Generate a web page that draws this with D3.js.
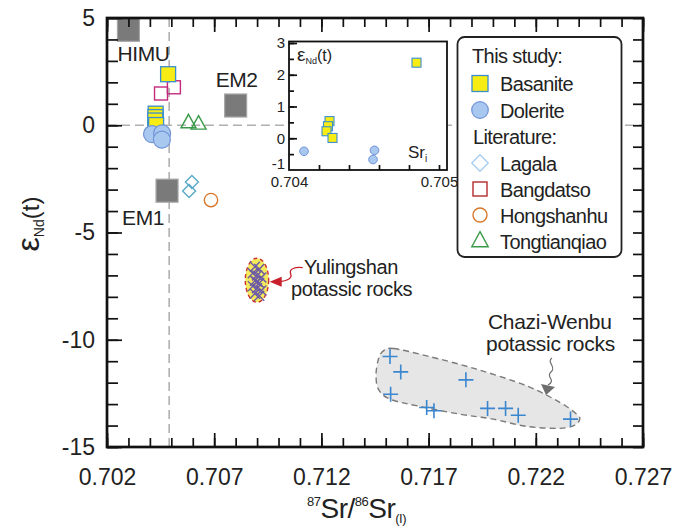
<!DOCTYPE html>
<html>
<head>
<meta charset="utf-8">
<script src="https://cdn.jsdelivr.net/npm/d3@7"></script>
<style>
  body { margin: 0; background: #fff; }
  svg { display: block; font-family: "Liberation Sans", Arial, sans-serif; }
</style>
</head>
<body>
<div id="container"></div>
<script>
// values
var basaniteSr = [0.70427, 0.70426, 0.70425, 0.70429, 0.70485];
var basaniteNd = [0.54, 0.38, 0.22, 0.01, 2.38];
var doleriteSr = [0.70410, 0.70457, 0.70456];
var doleriteNd = [-0.41, -0.38, -0.67];
var lagalaSr = [0.70583, 0.70596];
var lagalaNd = [-3.07, -2.65];
var bangdatsoSr = [0.70452, 0.70512];
var bangdatsoNd = [1.48, 1.77];
var hongshanhuSr = [0.70685];
var hongshanhuNd = [-3.49];
var tongtianqiaoSr = [0.70580, 0.70627];
var tongtianqiaoNd = [0.12, 0.06];
var mantleNames = ["HIMU", "EM1", "EM2"];
var mantleSr = [0.7030, 0.7048, 0.7080];
var mantleNd = [4.45, -3.05, 0.92];
var yulingshanSr = [0.7089, 0.7091, 0.7088, 0.7090, 0.7092, 0.7089, 0.7091, 0.7088, 0.7090, 0.7092, 0.7089, 0.7091, 0.7090];
var yulingshanNd = [-6.6, -6.7, -6.9, -7.0, -7.1, -7.25, -7.35, -7.5, -7.6, -7.7, -7.85, -7.95, -7.3];
var yulingshanFieldSr = [0.70845, 0.70954];
var yulingshanFieldNd = [-8.25, -6.2];
var chaziSr = [0.71520, 0.71570, 0.71523, 0.71691, 0.71725, 0.71874, 0.71975, 0.72059, 0.72118, 0.72362];
var chaziNd = [-10.78, -11.50, -12.54, -13.16, -13.31, -11.87, -13.20, -13.20, -13.52, -13.70];
var chaziFieldSr = [0.71489, 0.71536, 0.71691, 0.71924, 0.72157, 0.72312, 0.72390, 0.72405, 0.72382, 0.72312, 0.72157, 0.72001, 0.71846, 0.71660, 0.71520, 0.71466, 0.71455, 0.71466];
var chaziFieldNd = [-10.52, -10.41, -10.75, -11.37, -12.15, -12.92, -13.47, -13.70, -13.98, -14.13, -14.04, -13.70, -13.47, -13.11, -12.77, -12.30, -11.61, -10.91];
var bulkEarthSr = 0.7049;

var xTickLabels = [0.702, 0.707, 0.712, 0.717, 0.722, 0.727];
var yTickLabels = [-15, -10, -5, 0, 5];
var insetXTickLabels = [0.704, 0.705];
var insetYTickLabels = [-1, 0, 1, 2, 3];
var legendLabels = ["Basanite", "Dolerite", "Lagala", "Bangdatso", "Hongshanhu", "Tongtianqiao"];

var w = 686, h = 526;

var svg = d3.select("div#container")
  .append("svg")
  .attr("width", w)
  .attr("height", h);

var x = d3.scaleLinear().domain([0.702, 0.727]).range([107, 643]);
var y = d3.scaleLinear().domain([-15, 5]).range([447, 18]);

function pts(a, b) { return a.map(function(d, i) { return [d, b[i]]; }); }
// plain hyphen for negatives, like the original
function intFmt(d) { return String(d); }

// symbol paths
function diamond(r) { return "M0," + (-r) + "L" + r + ",0L0," + r + "L" + (-r) + ",0Z"; }
function triangle(hw, ht) { return "M0," + (-ht * 0.62) + "L" + hw + "," + (ht * 0.38) + "L" + (-hw) + "," + (ht * 0.38) + "Z"; }
function plus(r) { return "M" + (-r) + ",0H" + r + "M0," + (-r) + "V" + r; }
function cross(r) { return "M" + (-r) + "," + (-r) + "L" + r + "," + r + "M" + (-r) + "," + r + "L" + r + "," + (-r); }

svg.append("clipPath").attr("id", "plotclip")
  .append("rect").attr("x", 107).attr("y", 18).attr("width", 536).attr("height", 429);

var plot = svg.append("g").attr("clip-path", "url(#plotclip)");

// reference lines
plot.append("line")
  .attr("x1", x(0.702)).attr("x2", x(0.727)).attr("y1", y(0)).attr("y2", y(0))
  .attr("stroke", "#b0b0b0").attr("stroke-width", 1.6).attr("stroke-dasharray", "9,5");
plot.append("line")
  .attr("x1", x(bulkEarthSr)).attr("x2", x(bulkEarthSr)).attr("y1", y(5)).attr("y2", y(-15))
  .attr("stroke", "#b0b0b0").attr("stroke-width", 1.6).attr("stroke-dasharray", "9,5");

// Chazi-Wenbu field
plot.append("path")
  .datum(pts(chaziFieldSr, chaziFieldNd))
  .attr("d", d3.line().x(function(d) { return x(d[0]); }).y(function(d) { return y(d[1]); }).curve(d3.curveCardinalClosed))
  .attr("fill", "#e6e6e6").attr("stroke", "#7a7a7a").attr("stroke-width", 1.4).attr("stroke-dasharray", "6,4");

plot.selectAll(".chazi").data(pts(chaziSr, chaziNd)).enter().append("path")
  .attr("transform", function(d) { return "translate(" + x(d[0]) + "," + y(d[1]) + ")"; })
  .attr("d", plus(7.5)).attr("stroke", "#3a86cf").attr("stroke-width", 1.6).attr("fill", "none");

// Yulingshan field
var ycx = x((yulingshanFieldSr[0] + yulingshanFieldSr[1]) / 2),
    ycy = y((yulingshanFieldNd[0] + yulingshanFieldNd[1]) / 2),
    yrx = (x(yulingshanFieldSr[1]) - x(yulingshanFieldSr[0])) / 2,
    yry = (y(yulingshanFieldNd[0]) - y(yulingshanFieldNd[1])) / 2;
plot.append("ellipse")
  .attr("cx", ycx).attr("cy", ycy).attr("rx", yrx).attr("ry", yry)
  .attr("fill", "#f4ea5c").attr("stroke", "#cc3030").attr("stroke-width", 1.4).attr("stroke-dasharray", "4,3");
plot.selectAll(".yls").data(pts(yulingshanSr, yulingshanNd)).enter().append("path")
  .attr("transform", function(d) { return "translate(" + x(d[0]) + "," + y(d[1]) + ")"; })
  .attr("d", cross(5)).attr("stroke", "#6a5aa8").attr("stroke-width", 1.4).attr("fill", "none");

// mantle end-members
plot.selectAll(".mantle").data(pts(mantleSr, mantleNd)).enter().append("rect")
  .attr("x", function(d) { return x(d[0]) - 11; })
  .attr("y", function(d) { return y(d[1]) - 11.5; })
  .attr("width", 22).attr("height", 23)
  .attr("fill", "#7a7a7a").attr("stroke", "#a6a6a6").attr("stroke-width", 1.2);

// literature
plot.selectAll(".lag").data(pts(lagalaSr, lagalaNd)).enter().append("path")
  .attr("transform", function(d) { return "translate(" + x(d[0]) + "," + y(d[1]) + ")"; })
  .attr("d", diamond(6.5)).attr("fill", "none").attr("stroke", "#5aaac8").attr("stroke-width", 1.4);
plot.selectAll(".bang").data(pts(bangdatsoSr, bangdatsoNd)).enter().append("rect")
  .attr("x", function(d) { return x(d[0]) - 6.5; }).attr("y", function(d) { return y(d[1]) - 6.5; })
  .attr("width", 13).attr("height", 13)
  .attr("fill", "none").attr("stroke", "#c42a7c").attr("stroke-width", 1.4);
plot.selectAll(".hong").data(pts(hongshanhuSr, hongshanhuNd)).enter().append("circle")
  .attr("cx", function(d) { return x(d[0]); }).attr("cy", function(d) { return y(d[1]); }).attr("r", 6.7)
  .attr("fill", "none").attr("stroke", "#d7782c").attr("stroke-width", 1.4);
plot.selectAll(".tong").data(pts(tongtianqiaoSr, tongtianqiaoNd)).enter().append("path")
  .attr("transform", function(d) { return "translate(" + x(d[0]) + "," + y(d[1]) + ")"; })
  .attr("d", triangle(7.5, 13.5)).attr("fill", "none").attr("stroke", "#3a9a4a").attr("stroke-width", 1.4);

// this study
plot.selectAll(".bas").data(pts(basaniteSr, basaniteNd)).enter().append("rect")
  .attr("x", function(d) { return x(d[0]) - 7.5; }).attr("y", function(d) { return y(d[1]) - 7.5; })
  .attr("width", 15).attr("height", 15)
  .attr("fill", "#f7ec13").attr("stroke", "#3a8fd0").attr("stroke-width", 1.3);
plot.selectAll(".dol").data(pts(doleriteSr, doleriteNd)).enter().append("circle")
  .attr("cx", function(d) { return x(d[0]); }).attr("cy", function(d) { return y(d[1]); }).attr("r", 8.5)
  .attr("fill", "#a9c8f0").attr("stroke", "#6f93d6").attr("stroke-width", 1.2);

// end-member labels
var mantleOffset = [[-11, 31], [-45, 34], [-20, -19]];
svg.selectAll(".mlab").data(mantleNames).enter().append("text")
  .attr("x", function(d, i) { return x(mantleSr[i]) + mantleOffset[i][0]; })
  .attr("y", function(d, i) { return y(mantleNd[i]) + mantleOffset[i][1]; })
  .attr("font-size", 21).attr("fill", "#222").attr("letter-spacing", -0.4)
  .text(function(d) { return d; });

// Yulingshan annotation
var tipX = ycx + yrx + 1, tipY = ycy + 1.5;
svg.append("path")
  .attr("d", "M" + (tipX + 33) + "," + (tipY - 14) +
    "C" + (tipX + 26) + "," + (tipY - 15) + " " + (tipX + 19) + "," + (tipY - 13) + " " + (tipX + 21) + "," + (tipY - 8) +
    "S" + (tipX + 17) + "," + (tipY - 1) + " " + (tipX + 10) + "," + tipY)
  .attr("fill", "none").attr("stroke", "#c8202a").attr("stroke-width", 1.3);
svg.append("path")
  .attr("d", "M" + tipX + "," + tipY + "L" + (tipX + 12) + "," + (tipY - 5) + "L" + (tipX + 12) + "," + (tipY + 5) + "Z")
  .attr("fill", "#c8202a");
svg.append("text").attr("x", 304).attr("y", 274).attr("font-size", 20).attr("fill", "#222").attr("letter-spacing", -0.4).text("Yulingshan");
svg.append("text").attr("x", 291).attr("y", 296).attr("font-size", 20).attr("fill", "#222").attr("letter-spacing", -0.4).text("potassic rocks");

// Chazi-Wenbu annotation
svg.append("text").attr("x", 488).attr("y", 329).attr("font-size", 21).attr("fill", "#222").attr("letter-spacing", -0.3).text("Chazi-Wenbu");
svg.append("text").attr("x", 486).attr("y", 351).attr("font-size", 21).attr("fill", "#222").attr("letter-spacing", -0.3).text("potassic rocks");
svg.append("path")
  .attr("d", "M552,358 C546,362 557,367 551,372 S557,380 548,385")
  .attr("fill", "none").attr("stroke", "#6e6e6e").attr("stroke-width", 1.2);
svg.append("path").attr("d", "M541,384 L555,387 L546,395 Z").attr("fill", "#6e6e6e");

// ---- axes ----
var xMinor = d3.range(0, 26).map(function(i) { return 0.702 + i * 0.001; });
var yMinor = d3.range(-15, 6);

function styleAxis(g) {
  g.select(".domain").remove();
  g.selectAll("line").attr("stroke", "#111").attr("stroke-width", 1.7);
  g.selectAll("text").attr("fill", "#222").attr("font-family", "Liberation Sans, Arial, sans-serif");
}

svg.append("g").attr("transform", "translate(0,447)")
  .call(d3.axisBottom(x).tickValues(xMinor).tickSize(-9).tickFormat(""))
  .call(styleAxis);
svg.append("g").attr("transform", "translate(0,447)")
  .call(d3.axisBottom(x).tickValues(xTickLabels).tickSize(-14).tickPadding(22).tickFormat(d3.format(".3f")))
  .call(styleAxis)
  .selectAll("text").attr("font-size", 23);
svg.append("g").attr("transform", "translate(0,18)")
  .call(d3.axisTop(x).tickValues(xMinor).tickSize(-9).tickFormat(""))
  .call(styleAxis);
svg.append("g").attr("transform", "translate(0,18)")
  .call(d3.axisTop(x).tickValues(xTickLabels).tickSize(-14).tickFormat(""))
  .call(styleAxis);
svg.append("g").attr("transform", "translate(107,0)")
  .call(d3.axisLeft(y).tickValues(yMinor).tickSize(-11).tickFormat(""))
  .call(styleAxis);
svg.append("g").attr("transform", "translate(107,0)")
  .call(d3.axisLeft(y).tickValues(yTickLabels).tickSize(-15).tickPadding(12).tickFormat(intFmt))
  .call(styleAxis)
  .selectAll("text").attr("font-size", 23);
svg.append("g").attr("transform", "translate(643,0)")
  .call(d3.axisRight(y).tickValues(yMinor).tickSize(-10).tickFormat(""))
  .call(styleAxis);

svg.append("rect").attr("x", 107).attr("y", 18).attr("width", 536).attr("height", 429)
  .attr("fill", "none").attr("stroke", "#111").attr("stroke-width", 2.7);

// axis titles
var yt = svg.append("text").attr("transform", "translate(39,224) rotate(-90)")
  .attr("text-anchor", "middle").attr("fill", "#222");
yt.append("tspan").attr("font-size", 32).text("ε");
yt.append("tspan").attr("font-size", 14).attr("dy", 5).text("Nd");
yt.append("tspan").attr("font-size", 24).attr("dy", -5).text("(t)");

var xt = svg.append("text").attr("x", 307).attr("y", 518).attr("fill", "#222").attr("letter-spacing", -0.5);
xt.append("tspan").attr("font-size", 13).attr("dy", -12).text("87");
xt.append("tspan").attr("font-size", 28).attr("dy", 12).text("Sr/");
xt.append("tspan").attr("font-size", 13).attr("dy", -12).text("86");
xt.append("tspan").attr("font-size", 28).attr("dy", 12).text("Sr");
xt.append("tspan").attr("font-size", 13).attr("dy", 5).text("(I)");

// ---- inset ----
var xi = d3.scaleLinear().domain([0.704, 0.705]).range([289, 439]);
var yi = d3.scaleLinear().domain([-1, 3]).range([170, 43]);
var inset = svg.append("g");
inset.append("rect").attr("x", 289).attr("y", 41.5).attr("width", 158).attr("height", 128.5)
  .attr("fill", "#fff");

inset.selectAll(".ibas").data(pts(basaniteSr, basaniteNd)).enter().append("rect")
  .attr("x", function(d) { return xi(d[0]) - 4.5; }).attr("y", function(d) { return yi(d[1]) - 4.5; })
  .attr("width", 9).attr("height", 9)
  .attr("fill", "#f7ec13").attr("stroke", "#3a8fd0").attr("stroke-width", 1.1);
inset.selectAll(".idol").data(pts(doleriteSr, doleriteNd)).enter().append("circle")
  .attr("cx", function(d) { return xi(d[0]); }).attr("cy", function(d) { return yi(d[1]); }).attr("r", 4.3)
  .attr("fill", "#a9c8f0").attr("stroke", "#6f93d6").attr("stroke-width", 1);

var iyMinor = d3.range(-2, 7).map(function(i) { return i / 2; });
var ixMinor = d3.range(0, 6).map(function(i) { return 0.704 + i * 0.0002; });
inset.append("g").attr("transform", "translate(289,0)")
  .call(d3.axisLeft(yi).tickValues(iyMinor).tickSize(-5).tickFormat(""))
  .call(styleAxis);
inset.append("g").attr("transform", "translate(289,0)")
  .call(d3.axisLeft(yi).tickValues(insetYTickLabels).tickSize(-8).tickPadding(4).tickFormat(intFmt))
  .call(styleAxis)
  .selectAll("text").attr("font-size", 15)
  .attr("dy", function(d) { return d === -1 ? "-0.12em" : "0.32em"; });
inset.append("g").attr("transform", "translate(0,170)")
  .call(d3.axisBottom(xi).tickValues(ixMinor).tickSize(-5).tickFormat(""))
  .call(styleAxis);
inset.append("g").attr("transform", "translate(0,170)")
  .call(d3.axisBottom(xi).tickValues(insetXTickLabels).tickSize(0).tickPadding(6).tickFormat(d3.format(".3f")))
  .call(styleAxis)
  .selectAll("text").attr("font-size", 15);
inset.selectAll("line").filter(function(d) { return d === 0.704 || d === -1; }).remove();
inset.append("rect").attr("x", 289).attr("y", 41.5).attr("width", 158).attr("height", 128.5)
  .attr("fill", "none").attr("stroke", "#111").attr("stroke-width", 1.8);

var it = inset.append("text").attr("x", 297).attr("y", 61).attr("fill", "#222");
it.append("tspan").attr("font-size", 19).text("ε");
it.append("tspan").attr("font-size", 9).attr("dy", 3).text("Nd");
it.append("tspan").attr("font-size", 16).attr("dy", -3).text("(t)");
var is = inset.append("text").attr("x", 408).attr("y", 158).attr("fill", "#222");
is.append("tspan").attr("font-size", 17).text("Sr");
is.append("tspan").attr("font-size", 10).attr("dy", 4).text("i");

// ---- legend ----
var legend = svg.append("g");
legend.append("rect").attr("x", 457.5).attr("y", 37).attr("width", 164).attr("height", 220).attr("rx", 7)
  .attr("fill", "#fff").attr("stroke", "#222").attr("stroke-width", 1.8);
legend.append("text").attr("x", 472).attr("y", 63).attr("font-size", 20).attr("fill", "#222").attr("letter-spacing", -0.6).text("This study:");
legend.append("text").attr("x", 473).attr("y", 143.5).attr("font-size", 20).attr("fill", "#222").attr("letter-spacing", -0.6).text("Literature:");

var legendRowY = [83.5, 110, 163, 189, 215, 241];
legend.selectAll(".ltxt").data(legendLabels).enter().append("text")
  .attr("x", 500).attr("y", function(d, i) { return legendRowY[i] + 7.5; })
  .attr("font-size", 20).attr("fill", "#222").attr("letter-spacing", -0.6)
  .text(function(d) { return d; });

var lx = 480;
legend.append("rect").attr("x", lx - 8).attr("y", legendRowY[0] - 8).attr("width", 16).attr("height", 16)
  .attr("fill", "#f7ec13").attr("stroke", "#3a8fd0").attr("stroke-width", 1.3);
legend.append("circle").attr("cx", lx).attr("cy", legendRowY[1]).attr("r", 8.3)
  .attr("fill", "#a9c8f0").attr("stroke", "#6f93d6").attr("stroke-width", 1.2);
legend.append("path").attr("transform", "translate(" + lx + "," + legendRowY[2] + ")").attr("d", diamond(8.2))
  .attr("fill", "none").attr("stroke", "#a8cdee").attr("stroke-width", 1.4);
legend.append("rect").attr("x", lx - 7).attr("y", legendRowY[3] - 7).attr("width", 14).attr("height", 14)
  .attr("fill", "none").attr("stroke", "#b52a30").attr("stroke-width", 1.4);
legend.append("circle").attr("cx", lx).attr("cy", legendRowY[4]).attr("r", 7)
  .attr("fill", "none").attr("stroke", "#d7782c").attr("stroke-width", 1.4);
legend.append("path").attr("transform", "translate(" + lx + "," + legendRowY[5] + ")").attr("d", triangle(8.2, 15))
  .attr("fill", "none").attr("stroke", "#3a9a4a").attr("stroke-width", 1.4);
</script>
</body>
</html>
